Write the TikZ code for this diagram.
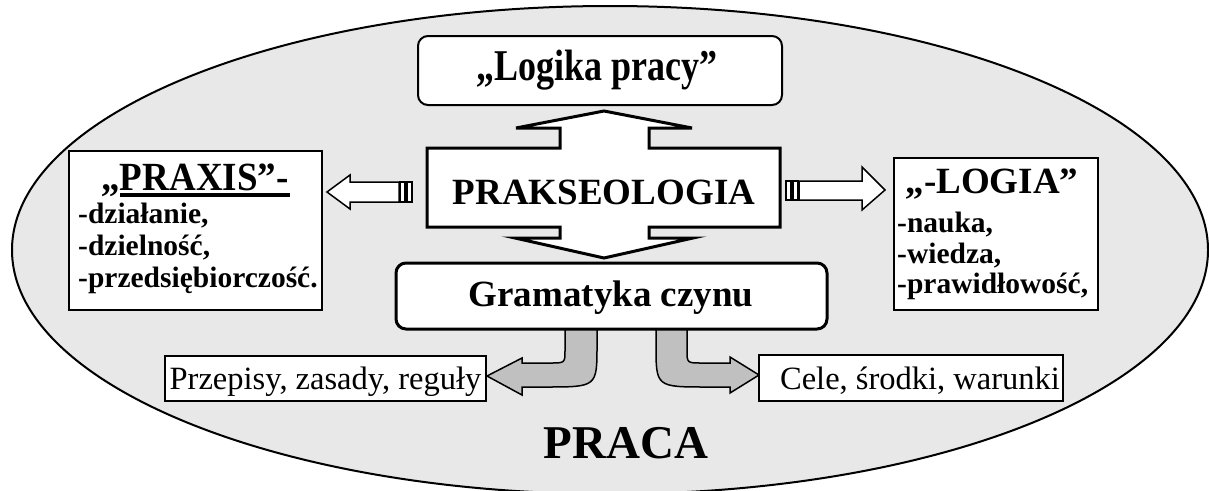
\documentclass[tikz,border=0pt]{standalone}
\usepackage{graphicx}
\usepackage{fontspec}
\setmainfont{Liberation Serif}
\definecolor{ellfill}{RGB}{232,232,232}
\definecolor{arrgray}{RGB}{192,192,192}
\begin{document}
\begin{tikzpicture}[x=1pt,y=-1pt,
  thinbox/.style={draw,line width=2,fill=white},
  roundbox/.style={draw,fill=white,rounded corners=10},
  blockarrow/.style={draw,line width=1.5,fill=white,line join=miter},
  bentarrow/.style={draw,line width=1.5,fill=arrgray},
  head/.style={font=\fontsize{37}{37}\selectfont\bfseries,anchor=base,inner sep=0},
  item/.style={font=\fontsize{29.5}{29.5}\selectfont\bfseries,anchor=base west,inner sep=0},
  plain/.style={font=\fontsize{32.5}{32.5}\selectfont,anchor=base,inner sep=0}]
\useasboundingbox (0,0) rectangle (1209,490);
\begin{scope}
  \clip (0,0) rectangle (1209,490);
  \draw[line width=2,fill=ellfill] (610,250) ellipse [x radius=598, y radius=244];
\end{scope}
% Logika pracy
\draw[roundbox,line width=2] (418,36) rectangle (782,105);
\node[head,font=\fontsize{36}{36}\selectfont\bfseries] (logika) at (597,80) {\scalebox{1}[1.22]{„Logika pracy”}};
% central double arrow
\draw[line width=3,fill=white,line join=miter] (604,111) -- (692,128) -- (649,128) -- (649,148) -- (780,148) -- (780,227) -- (649,227) -- (649,238) -- (693,238) -- (604,258) -- (515,238) -- (560,238) -- (560,227) -- (427,227) -- (427,148) -- (560,148) -- (560,128) -- (516,128) -- cycle;
\node[head] (prak) at (604,204) {PRAKSEOLOGIA};
% PRAXIS box
\draw[thinbox] (69,151) rectangle (322,310);
\node[head] (praxis) at (195,190) {\scalebox{1}[1.08]{„PRAXIS”-}};
\draw[line width=3.5] (120,195) -- (290,195);
\node[item] (p1) at (78,223) {-działanie,};
\node[item] (p2) at (78,255) {-dzielność,};
\node[item] (p3) at (78,287) {-przedsiębiorczość.};
% LOGIA box
\draw[thinbox] (894,158) rectangle (1098,310);
\node[head] (logia) at (992,193) {„-LOGIA”};
\node[item] (l1) at (897,232) {-nauka,};
\node[item] (l2) at (897,263) {-wiedza,};
\node[item] (l3) at (897,293) {-prawidłowość,};
% side arrows
\draw[blockarrow] (327,192) -- (350,175) -- (350,182) -- (399,182) -- (399,202) -- (350,202) -- (350,209) -- cycle;
\draw[blockarrow,line width=1.2] (400,182) rectangle (405,202);
\draw[blockarrow,line width=1.2] (407,182) rectangle (412,202);
\draw[blockarrow] (885,190) -- (862,167) -- (862,181) -- (799,181) -- (799,200) -- (862,200) -- (862,210) -- cycle;
\draw[blockarrow,line width=1.2] (786,181) rectangle (791,200);
\draw[blockarrow,line width=1.2] (793,181) rectangle (798,200);
% bent arrows
\draw[bentarrow] (565,329) -- (565,350) .. controls (565,363) .. (550,363) -- (522,363) -- (522,358) -- (487,376) -- (522,395) -- (522,387) -- (545,387) .. controls (597,387) .. (597,345) -- (597,329) -- cycle;
\draw[bentarrow] (687,329) -- (687,350) .. controls (687,363) .. (702,363) -- (730,363) -- (730,357) -- (759,375) -- (730,393) -- (730,387) -- (707,387) .. controls (656,387) .. (656,345) -- (656,329) -- cycle;
% Gramatyka czynu
\draw[roundbox,line width=3] (396,263) rectangle (827,329);
\node[head] (gram) at (611,306) {Gramatyka czynu};
% bottom boxes
\draw[thinbox,line width=1.5] (165,356) rectangle (486,401);
\node[plain] (przep) at (325.5,389) {Przepisy, zasady, reguły};
\draw[thinbox,line width=1.5] (759,355) rectangle (1063,401);
\node[plain] (cele) at (920,389) {Cele, środki, warunki};
% PRACA
\node[font=\fontsize{47}{47}\selectfont\bfseries,anchor=base,inner sep=0] (praca) at (626,458) {PRACA};
\end{tikzpicture}
\end{document}
